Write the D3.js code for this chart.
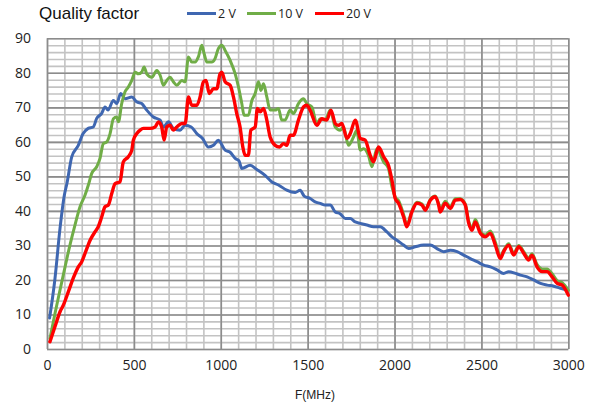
<!DOCTYPE html>
<html>
<head>
<meta charset="utf-8">
<script src="https://cdn.jsdelivr.net/npm/d3@7"></script>
<style>
  body { margin: 0; background: #fff; }
  .tick text { font-family: "Open Sans", sans-serif; font-size: 14px; fill: #222; }
  .grid .domain { display: none; }
</style>
</head>
<body>
<div id="chart"></div>
<script>
    // chart size
    let width = 600;
    let height = 408;
    let margin = {top: 38.3, right: 31.7, bottom: 59, left: 47};

    // series: [MHz, Q]
    let q2V = [[15,9],[45,20],[75,35],[100,44.6],[115,48],[142,55.6],[180,59],[208,62.4],[237,63.9],[266,64.3],
        [286,66.8],[314,68.2],[334,70.1],[351,69.2],[382,72],[401,71.1],[424,74],[449,72.5],[488,73],[516,71.6],
        [545,71.1],[574,69.2],[612,67.2],[651,66.3],[670,64.3],[699,65.8],[727,63.9],[766,63.4],[795,64.8],[830,64.3],
        [862,62.4],[895,61],[929,58.5],[958,59],[986,60.5],[1025,57.6],[1054,57],[1083,55.2],[1105,54.5],[1121,52.3],
        [1169,53.2],[1207,52],[1255,50.3],[1294,48.4],[1332,47.5],[1380,46],[1428,45.3],[1457,46],[1480,44.3],[1515,43.6],
        [1543,42.6],[1572,42.2],[1601,41.7],[1630,41.7],[1659,39.7],[1687,39.2],[1716,37.8],[1745,37.8],[1774,36.8],[1803,36.4],
        [1841,35.9],[1879,35.4],[1918,35.4],[1956,33.9],[1985,32.5],[2014,31.5],[2052,30.1],[2081,29.1],[2119,29.6],[2167,30.1],
        [2206,30.1],[2244,29.1],[2283,28.2],[2321,28.6],[2360,28.2],[2398,27.2],[2436,26.2],[2475,25.3],[2513,24.3],[2552,23.8],
        [2590,22.9],[2628,21.9],[2657,22.4],[2696,21.9],[2724,21.4],[2763,20.9],[2801,20],[2840,19],[2878,18.5],[2917,18.2],
        [2955,17.6],[2994,17.1]];

    let q10V = [[17,3],[46,10.3],[75,17.1],[104,23.8],[132,30.1],[161,35.9],[190,41.2],[219,44.6],[238,47.5],[257,50.8],
        [286,52.8],[305,55.2],[324,59.5],[344,60],[363,62.4],[382,66.7],[401,67.2],[411,65.8],[430,71.1],[449,74.5],
        [468,75.9],[488,77.8],[507,80.2],[526,79.7],[545,80.2],[559,81.7],[574,79.7],[603,78.7],[632,80.7],[651,79.3],
        [670,76.4],[689,77.8],[708,78.7],[727,77.4],[747,76.4],[776,77.8],[795,77.4],[814,84.6],[833,83.1],[852,83.1],
        [871,84.6],[891,88],[904,85.6],[920,83.1],[948,83.1],[967,84.1],[986,87],[1006,88],[1025,86.5],[1054,83.6],
        [1083,79.7],[1102,75.9],[1121,71.1],[1134,67.7],[1159,67.7],[1179,72],[1198,74],[1217,77.4],[1231,74.9],[1246,76.8],
        [1265,73],[1284,69.2],[1313,69.2],[1332,69.7],[1351,66.3],[1370,66.3],[1399,69.2],[1418,68.2],[1447,71.1],[1476,72.5],
        [1495,71.1],[1524,70.1],[1553,65.3],[1572,66.7],[1601,66.3],[1630,69.2],[1659,64.3],[1687,63.4],[1706,64.3],[1735,59],
        [1764,61.4],[1783,63.4],[1803,57.6],[1822,58],[1850,56.1],[1870,52.8],[1898,58],[1937,54.2],[1965,52.3],[1985,47],
        [2004,44],[2023,43],[2052,39],[2071,36],[2100,40],[2129,42.5],[2158,42],[2177,40.5],[2206,43.3],[2234,44.3],
        [2254,42],[2263,40.5],[2292,42.8],[2321,41.2],[2350,43.5],[2378,43.5],[2407,42],[2427,37],[2446,35],[2465,37.5],
        [2494,34],[2522,33],[2551,34.2],[2580,31],[2609,26.8],[2628,28.5],[2657,30.5],[2686,27.7],[2715,30],[2744,28.2],
        [2772,26.3],[2791,27.6],[2820,24.5],[2849,23.2],[2878,23.2],[2907,21.8],[2936,19.8],[2965,19.2],[3000,17]];

    let q20V = [[17,2.1],[46,6.5],[75,10.8],[94,12.7],[123,16.6],[151,20.5],[180,23.8],[200,25.3],[229,29.1],[248,31.5],
        [276,33.9],[295,35.4],[315,38.3],[334,41.2],[353,41.7],[373,45.1],[392,47.9],[420,48.4],[439,54.2],[468,55.7],
        [488,57.6],[497,60.5],[517,62.4],[536,63.4],[555,63.9],[593,63.9],[622,64.3],[641,65.8],[660,64.3],[674,60.5],
        [689,64.3],[708,64.8],[727,63.4],[747,64.3],[776,65.3],[795,65.3],[814,73],[833,70.6],[862,70.6],[881,73],
        [900,77.4],[915,77.8],[934,74],[958,75.4],[977,75.4],[996,79.7],[1006,80.2],[1025,77.4],[1054,76.4],[1073,73],
        [1092,68.2],[1111,64.3],[1127,58.5],[1140,56.1],[1159,56.1],[1173,63.4],[1198,64.3],[1211,69.7],[1227,68.7],[1246,69.7],
        [1265,66.3],[1284,61.4],[1313,59],[1338,58.5],[1361,59.5],[1380,59],[1399,61.9],[1418,61.9],[1447,66.3],[1476,70.1],
        [1495,70.6],[1514,69.2],[1553,64.8],[1582,66.7],[1610,66.3],[1634,69.2],[1659,65.3],[1678,64.8],[1697,65.3],[1726,61],
        [1745,62.4],[1774,66.3],[1803,61],[1831,60.5],[1860,56.1],[1879,54.2],[1908,58.5],[1937,55.7],[1965,53.2],[1985,48.9],
        [2004,43.6],[2023,42.2],[2052,38.3],[2071,35.4],[2100,39.7],[2129,42.2],[2158,41.7],[2177,40.2],[2206,43.1],[2234,44.1],
        [2254,41.7],[2263,39.7],[2292,42.2],[2321,40.7],[2350,43.1],[2378,43.3],[2407,41.7],[2427,36.4],[2446,34.4],[2465,36.8],
        [2494,33.5],[2522,32.5],[2551,33.5],[2580,30.1],[2609,26.2],[2628,28.2],[2657,30.1],[2686,27.2],[2715,29.6],[2744,27.7],
        [2772,25.8],[2791,27.2],[2820,23.8],[2849,22.4],[2878,22.4],[2907,20.9],[2936,19],[2965,18.5],[3000,15.6]];

    let seriesNames = ["2 V", "10 V", "20 V"];
    let seriesColors = ["#3F67B1", "#70AD47", "#FF0000"];
    let xTicks = [0, 500, 1000, 1500, 2000, 2500, 3000];
    let yTicks = [0, 10, 20, 30, 40, 50, 60, 70, 80, 90];

    let series = [q2V, q10V, q20V];
    let w = width - margin.left - margin.right;
    let h = height - margin.top - margin.bottom;

    let svg = d3.select("#chart")
        .append("svg")
        .attr("width", width)
        .attr("height", height)

    let g = svg.append("g")
        .attr("transform", "translate(" + margin.left + "," + margin.top + ")")

    let x = d3.scaleLinear().domain([0, 3000]).range([0, w])
    let y = d3.scaleLinear().domain([0, 90]).range([h, 0])

    // minor grid
    g.append("g")
        .attr("class", "grid")
        .attr("transform", "translate(0," + h + ")")
        .call(d3.axisBottom(x).tickValues(d3.range(0, 3001, 100)).tickSize(-h).tickFormat(""))
        .selectAll("line").attr("stroke", "#c3c3c3").attr("stroke-width", 1.6)
    g.append("g")
        .attr("class", "grid")
        .call(d3.axisLeft(y).tickValues(d3.range(0, 91, 2)).tickSize(-w).tickFormat(""))
        .selectAll("line").attr("stroke", "#c3c3c3").attr("stroke-width", 1.6)

    // major grid
    g.append("g")
        .attr("class", "grid")
        .attr("transform", "translate(0," + h + ")")
        .call(d3.axisBottom(x).tickValues(xTicks).tickSize(-h).tickFormat(""))
        .selectAll("line").attr("stroke", "#8c8c8c").attr("stroke-width", 1.6)
    g.append("g")
        .attr("class", "grid")
        .call(d3.axisLeft(y).tickValues(yTicks).tickSize(-w).tickFormat(""))
        .selectAll("line").attr("stroke", "#8c8c8c").attr("stroke-width", 1.6)

    // tick labels
    let xAxis = g.append("g")
        .attr("transform", "translate(0," + h + ")")
        .call(d3.axisBottom(x).tickValues(xTicks).tickSize(0).tickPadding(11).tickFormat(d3.format("d")))
    xAxis.select(".domain").remove()

    let yAxis = g.append("g")
        .call(d3.axisLeft(y).tickValues(yTicks).tickSize(0).tickPadding(16).tickFormat(d3.format("d")))
    yAxis.select(".domain").remove()

    // lines
    let line = d3.line()
        .x(d => x(d[0]))
        .y(d => y(d[1]))
        .curve(d3.curveMonotoneX)

    g.selectAll(".series")
        .data(series)
        .join("path")
        .attr("class", "series")
        .attr("d", line)
        .attr("fill", "none")
        .attr("stroke", (d, i) => seriesColors[i])
        .attr("stroke-width", (d, i) => i == 2 ? 3.4 : 3)
        .attr("stroke-linejoin", "round")
        .attr("stroke-linecap", "round")

    // title
    svg.append("text")
        .attr("x", 39)
        .attr("y", 18.5)
        .text("Quality factor")
        .style("font-family", "Liberation Sans, Arial, sans-serif")
        .style("font-size", "17px")
        .attr("fill", "#111")

    // legend
    let legendX = [187, 247, 315];
    let legend = svg.append("g")
        .selectAll("g")
        .data(seriesNames)
        .join("g")
        .attr("transform", (d, i) => "translate(" + legendX[i] + ",13.5)")
    legend.append("line")
        .attr("x1", 0).attr("x2", 29)
        .attr("stroke", (d, i) => seriesColors[i])
        .attr("stroke-width", 3)
    legend.append("text")
        .attr("x", 31)
        .attr("y", 4.5)
        .text(d => d)
        .style("font-family", "Open Sans, sans-serif")
        .style("font-size", "12.5px")
        .attr("fill", "#222")

    // x title
    svg.append("text")
        .attr("x", 315)
        .attr("y", 399)
        .attr("text-anchor", "middle")
        .text("F(MHz)")
        .style("font-family", "Liberation Sans, Arial, sans-serif")
        .style("font-size", "12px")
        .attr("fill", "#222")
</script>
</body>
</html>
